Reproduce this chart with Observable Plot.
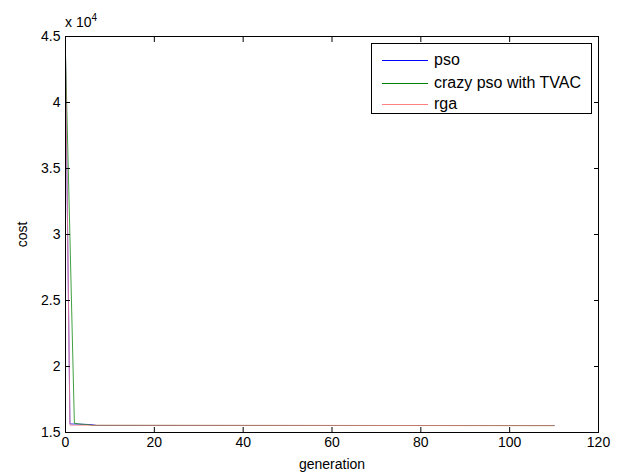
<!DOCTYPE html>
<html>
<head>
<meta charset="utf-8">
<script src="https://cdn.jsdelivr.net/npm/d3@7"></script>
<script src="https://cdn.jsdelivr.net/npm/@observablehq/plot@0.6"></script>
<style>
  body { margin: 0; background: #fff; }
  #wrap { position: relative; width: 619px; height: 476px; font-family: "Liberation Sans", Arial, sans-serif; }
  #legend { position: absolute; left: 371px; top: 43px; width: 219px; height: 69px; border: 1px solid #000; background: #fff; }
  .row { position: absolute; left: 0; height: 18px; display: flex; align-items: center; font-size: 16px; color: #000; }
  .sw { width: 46px; height: 0; border-top: 1px solid; margin-left: 10px; margin-right: 6px; }
  #expo { position: absolute; left: 65px; top: 12px; font-size: 14px; }
  #expo sup { font-size: 10px; vertical-align: 6px; }
</style>
</head>
<body>
<div id="wrap"></div>
<script>
// series data (generation, cost)
const psoGen = [0, 1, 2, 3, 4, 5, 6, 7, 110];
const psoCost = [43600, 15650, 15640, 15630, 15620, 15610, 15600, 15530, 15530];
const crazyGen = [0, 1, 2, 3, 4, 5, 6, 110];
const crazyCost = [43600, 29800, 15700, 15650, 15620, 15600, 15540, 15525];
const rgaGen = [0, 1, 110];
const rgaCost = [43600, 15550, 15520];

const seriesNames = ["pso", "crazy pso with TVAC", "rga"];
const seriesColors = ["#0000ff", "#008000", "#ff8080"];

const xTicks = [0, 20, 40, 60, 80, 100, 120];
const yTicks = [15000, 20000, 25000, 30000, 35000, 40000, 45000];

const toRows = (g, c, name) => g.map((d, i) => ({gen: d, cost: c[i], name}));
const data = [
  ...toRows(psoGen, psoCost, seriesNames[0]),
  ...toRows(crazyGen, crazyCost, seriesNames[1]),
  ...toRows(rgaGen, rgaCost, seriesNames[2])
];

const chart = Plot.plot({
  width: 619,
  height: 476,
  marginLeft: 65,
  marginRight: 21,
  marginTop: 36,
  marginBottom: 44,
  style: {fontFamily: "'Liberation Sans', Arial, sans-serif", fontSize: "14px", background: "#fff", color: "#000"},
  x: {domain: [0, 120], ticks: xTicks},
  y: {domain: [15000, 45000], ticks: yTicks},
  color: {domain: seriesNames, range: seriesColors},
  marks: [
    Plot.line(data, {x: "gen", y: "cost", z: "name", stroke: "name", strokeWidth: 1, strokeOpacity: 0.75}),
    Plot.frame({stroke: "#000", strokeWidth: 1}),
    Plot.axisX({anchor: "bottom", ticks: xTicks, tickSize: -5, tickPadding: 10, label: "generation", labelAnchor: "center", labelArrow: "none", labelOffset: 36, fontSize: 14}),
    Plot.axisX({anchor: "top", ticks: xTicks, tickSize: -5, tickFormat: () => "", label: null}),
    Plot.axisY({anchor: "left", ticks: yTicks, tickSize: -5, tickPadding: 10, tickFormat: d => String(d / 10000), label: "cost", labelAnchor: "center", labelArrow: "none", labelOffset: 48, fontSize: 14}),
    Plot.axisY({anchor: "right", ticks: yTicks, tickSize: -5, tickFormat: () => "", label: null})
  ]
});

const wrap = document.getElementById("wrap");
wrap.appendChild(chart);

const expo = document.createElement("div");
expo.id = "expo";
expo.innerHTML = "x 10<sup>4</sup>";
wrap.appendChild(expo);

const legend = document.createElement("div");
legend.id = "legend";
const rowTops = [7, 30, 51];
seriesNames.forEach((n, i) => {
  const r = document.createElement("div");
  r.className = "row";
  r.style.top = rowTops[i] + "px";
  const sw = document.createElement("div");
  sw.className = "sw";
  sw.style.borderTopColor = seriesColors[i];
  const t = document.createElement("span");
  t.textContent = n;
  r.appendChild(sw);
  r.appendChild(t);
  legend.appendChild(r);
});
wrap.appendChild(legend);
</script>
</body>
</html>
